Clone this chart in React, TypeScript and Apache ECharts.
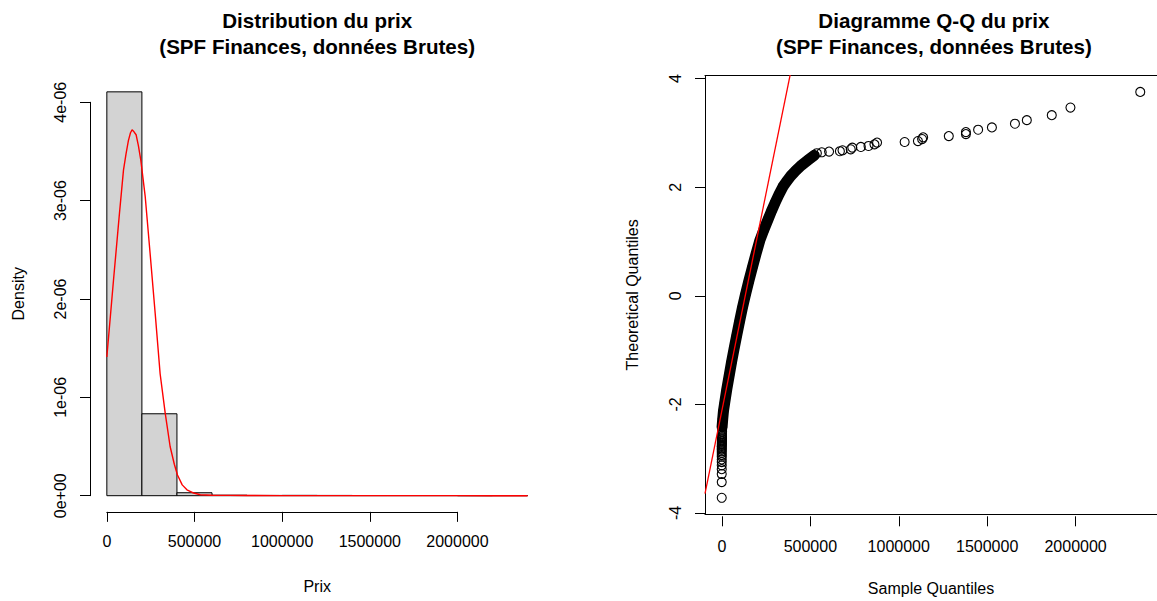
import React, { useEffect, useRef } from "react";
import * as echarts from "echarts";

// ---------- Histogram (left) ----------
const histBreaks = [0, 200000, 400000, 600000, 800000, 1000000, 1200000, 1400000, 1600000, 1800000, 2000000, 2200000, 2400000];
const histDensity = [4.106e-6, 0.833e-6, 0.03e-6, 0.0053e-6, 0.0027e-6, 0.0035e-6, 0.0027e-6, 0.0018e-6, 0.0018e-6, 0.0018e-6, 0, 0.0009e-6];

// kernel density estimate (red curve)
const densX = [0, 20000, 38000, 55000, 72000, 95000, 110000, 123000, 135000, 144000, 155000, 167000, 180000, 194000, 219000, 247000, 276000, 304000, 333000, 361000, 385000, 403000, 430000, 457000, 490000, 533000, 600000, 700000, 800000, 1000000, 1200000, 1500000, 1800000, 2000000, 2200000, 2400000];
const densY = [1.41e-6, 1.82e-6, 2.19e-6, 2.53e-6, 2.87e-6, 3.31e-6, 3.48e-6, 3.61e-6, 3.69e-6, 3.72e-6, 3.70e-6, 3.67e-6, 3.56e-6, 3.41e-6, 3.04e-6, 2.46e-6, 1.85e-6, 1.24e-6, 0.84e-6, 0.50e-6, 0.32e-6, 0.21e-6, 0.11e-6, 0.06e-6, 0.03e-6, 0.01e-6, 0.005e-6, 0.003e-6, 0.002e-6, 0.001e-6, 0.001e-6, 0.0005e-6, 0.0005e-6, 0.0003e-6, 0.0002e-6, 0.0001e-6];

// ---------- Q-Q plot (right) ----------
// lowest observations (stacked near 0)
const qqLowSample = [0, 0, 0, 0, 0, 0, 0, 0, 0, 0, 0, 0, 0, 0, 0, 500, 500, 500, 1000, 1000, 1000, 1000, 1500, 1500, 1500, 2000, 2000];
const qqLowTheo = [-3.76, -3.47, -3.32, -3.23, -3.16, -3.10, -3.05, -3.00, -2.97, -2.93, -2.90, -2.87, -2.85, -2.82, -2.80, -2.78, -2.76, -2.74, -2.72, -2.70, -2.68, -2.66, -2.64, -2.62, -2.58, -2.54, -2.50];
// dense central band
const qqBandSample = [2000, 5700, 10000, 17000, 29000, 42400, 56000, 70700, 86000, 101800, 118000, 135700, 155000, 175300, 196000, 217800, 241000, 266000, 285000, 305400, 327000, 350700, 372000, 395900, 425000, 458000, 497700, 530000];
const qqBandTheo = [-2.45, -2.3, -2.15, -2.0, -1.75, -1.5, -1.25, -1.0, -0.75, -0.5, -0.25, 0, 0.25, 0.5, 0.75, 1.0, 1.2, 1.4, 1.55, 1.7, 1.85, 2.0, 2.1, 2.2, 2.3, 2.4, 2.5, 2.58];
// upper tail outliers
const qqHighSample = [545000, 573000, 615000, 677000, 692000, 739000, 748000, 797000, 841000, 875000, 890000, 1048000, 1124000, 1148000, 1154000, 1301000, 1399000, 1399000, 1469000, 1548000, 1680000, 1748000, 1891000, 1998000, 2398000];
const qqHighTheo = [2.619, 2.637, 2.650, 2.656, 2.674, 2.692, 2.723, 2.735, 2.753, 2.784, 2.816, 2.827, 2.845, 2.882, 2.913, 2.937, 2.974, 3.011, 3.054, 3.097, 3.165, 3.232, 3.324, 3.465, 3.754];
// qqline
const qqLineIntercept = -2.159;
const qqLineSlope = 1.589e-5;

// tick values
const priceTicks = [0, 500000, 1000000, 1500000, 2000000];
const densityTicks = [0, 1e-6, 2e-6, 3e-6, 4e-6];
const theoTicks = [-4, -2, 0, 2, 4];

const FONT = '"Liberation Sans", Arial, Helvetica, sans-serif';

function ext(min: number, max: number): [number, number] {
  const d = (max - min) * 0.04;
  return [min - d, max + d];
}

export default function App() {
  const ref = useRef<HTMLDivElement>(null);
  useEffect(() => {
    const chart = echarts.init(ref.current!, null, { renderer: "svg" });

    const L = { left: 90, right: 544.4, top: 75.7, bottom: 511.85 };
    const R = { left: 705, right: 1162.9, top: 75.7, bottom: 516.3 };

    const [lxMin, lxMax] = ext(histBreaks[0], histBreaks[histBreaks.length - 1]);
    const [lyMin, lyMax] = ext(0, Math.max(...histDensity));
    const allX = [...qqLowSample, ...qqBandSample, ...qqHighSample];
    const allQ = [...qqLowTheo, ...qqBandTheo, ...qqHighTheo];
    const [rxMin, rxMax] = ext(Math.min(...allX), Math.max(...allX));
    const [ryMin, ryMax] = ext(Math.min(...allQ), Math.max(...allQ));

    const lpx = (v: number) => L.left + ((v - lxMin) / (lxMax - lxMin)) * (L.right - L.left);
    const lpy = (v: number) => L.bottom - ((v - lyMin) / (lyMax - lyMin)) * (L.bottom - L.top);
    const rpx = (v: number) => R.left + ((v - rxMin) / (rxMax - rxMin)) * (R.right - R.left);
    const rpy = (v: number) => R.bottom - ((v - ryMin) / (ryMax - ryMin)) * (R.bottom - R.top);

    const pTmin = priceTicks[0], pTmax = priceTicks[priceTicks.length - 1];
    const dTmin = densityTicks[0], dTmax = densityTicks[densityTicks.length - 1];
    const qTmin = theoTicks[0], qTmax = theoTicks[theoTicks.length - 1];

    const labelStyle = { fontFamily: FONT, fontSize: 16, color: "#000" };
    const nameStyle = { fontFamily: FONT, fontSize: 16, color: "#000" };
    const hiddenParts = {
      axisLine: { show: false },
      axisTick: { show: false },
      axisLabel: { show: false },
      splitLine: { show: false },
    };
    const blackLine = { show: true, onZero: false, lineStyle: { color: "#000", width: 1 } };
    const noLine = { show: false, onZero: false };
    const tick = { show: true, length: 10, inside: false, lineStyle: { color: "#000", width: 1 } };

    const qqPoints: number[][] = [];
    qqLowSample.forEach((x, i) => qqPoints.push([x, qqLowTheo[i]]));
    qqBandSample.forEach((x, i) => qqPoints.push([x, qqBandTheo[i]]));
    qqHighSample.forEach((x, i) => qqPoints.push([x, qqHighTheo[i]]));

    const titleStyle = { fontFamily: FONT, fontSize: 20.6, fontWeight: "bold", color: "#000", lineHeight: 26 };

    const option: any = {
      animation: false,
      backgroundColor: "#fff",
      title: [
        {
          text: "Distribution du prix\n(SPF Finances, données Brutes)",
          left: (L.left + L.right) / 2,
          top: 7,
          padding: 0,
          textAlign: "center",
          textStyle: titleStyle,
        },
        {
          text: "Diagramme Q-Q du prix\n(SPF Finances, données Brutes)",
          left: (R.left + R.right) / 2,
          top: 7,
          padding: 0,
          textAlign: "center",
          textStyle: titleStyle,
        },
      ],
      grid: [
        { left: L.left, top: L.top, width: L.right - L.left, height: L.bottom - L.top },
        { left: lpx(pTmin), top: L.top, width: lpx(pTmax) - lpx(pTmin), height: L.bottom - L.top },
        { left: L.left, top: lpy(dTmax), width: 100, height: lpy(dTmin) - lpy(dTmax) },
        { left: R.left, top: R.top, width: R.right - R.left, height: R.bottom - R.top },
        { left: rpx(pTmin), top: R.top, width: rpx(pTmax) - rpx(pTmin), height: R.bottom - R.top },
        { left: R.left, top: rpy(qTmax), width: 100, height: rpy(qTmin) - rpy(qTmax) },
      ],
      xAxis: [
        {
          gridIndex: 0, type: "value", min: lxMin, max: lxMax,
          name: "Prix", nameLocation: "middle", nameGap: 67, nameTextStyle: nameStyle,
          ...hiddenParts,
        },
        {
          gridIndex: 1, type: "value", position: "bottom", min: pTmin, max: pTmax, interval: priceTicks[1] - priceTicks[0],
          axisLine: blackLine,
          axisTick: tick,
          axisLabel: { ...labelStyle, margin: 22, formatter: (v: number) => String(Math.round(v)) },
          splitLine: { show: false },
        },
        { gridIndex: 2, type: "value", show: false, min: 0, max: 1 },
        {
          gridIndex: 3, type: "value", position: "bottom", min: rxMin, max: rxMax,
          name: "Sample Quantiles", nameLocation: "middle", nameGap: 66, nameTextStyle: nameStyle,
          ...hiddenParts,
          axisLine: blackLine,
        },
        {
          gridIndex: 4, type: "value", position: "bottom", min: pTmin, max: pTmax, interval: priceTicks[1] - priceTicks[0],
          axisLine: noLine,
          axisTick: tick,
          axisLabel: { ...labelStyle, margin: 22, formatter: (v: number) => String(Math.round(v)) },
          splitLine: { show: false },
        },
        { gridIndex: 5, type: "value", show: false, min: 0, max: 1 },
        {
          gridIndex: 3, type: "value", position: "top", min: rxMin, max: rxMax,
          ...hiddenParts,
          axisLine: blackLine,
        },
      ],
      yAxis: [
        {
          gridIndex: 0, type: "value", min: lyMin, max: lyMax,
          name: "Density", nameLocation: "middle", nameGap: 64, nameTextStyle: nameStyle,
          ...hiddenParts,
        },
        { gridIndex: 1, type: "value", show: false, min: 0, max: 1 },
        {
          gridIndex: 2, type: "value", position: "left", min: dTmin, max: dTmax, interval: densityTicks[1] - densityTicks[0],
          axisLine: blackLine,
          axisTick: tick,
          axisLabel: {
            ...labelStyle, margin: 22, rotate: 90,
            formatter: (v: number) => {
              const m = Math.round(v * 1e6);
              return m === 0 ? "0e+00" : m + "e-06";
            },
          },
          splitLine: { show: false },
        },
        {
          gridIndex: 3, type: "value", position: "left", min: ryMin, max: ryMax,
          name: "Theoretical Quantiles", nameLocation: "middle", nameGap: 65, nameTextStyle: nameStyle,
          ...hiddenParts,
          axisLine: blackLine,
        },
        { gridIndex: 4, type: "value", show: false, min: 0, max: 1 },
        {
          gridIndex: 5, type: "value", position: "left", min: qTmin, max: qTmax, interval: theoTicks[1] - theoTicks[0],
          axisLine: noLine,
          axisTick: tick,
          axisLabel: { ...labelStyle, margin: 22, rotate: 90 },
          splitLine: { show: false },
        },
      ],
      series: [
        {
          type: "custom",
          xAxisIndex: 0,
          yAxisIndex: 0,
          clip: false,
          data: histDensity.map((d, i) => [histBreaks[i], histBreaks[i + 1], d]),
          renderItem: (params: any, api: any) => {
            const s = api.coord([api.value(0), api.value(2)]);
            const e = api.coord([api.value(1), 0]);
            return {
              type: "rect",
              shape: { x: s[0], y: s[1], width: e[0] - s[0], height: e[1] - s[1] },
              style: { fill: "#D3D3D3", stroke: "#000", lineWidth: 1 },
            };
          },
          silent: true,
        },
        {
          type: "line",
          xAxisIndex: 0,
          yAxisIndex: 0,
          data: densX.map((x, i) => [x, densY[i]]),
          symbol: "none",
          smooth: false,
          lineStyle: { color: "#FF0000", width: 1.4 },
          silent: true,
          z: 5,
        },
        {
          type: "line",
          xAxisIndex: 3,
          yAxisIndex: 3,
          data: qqBandSample.map((x, i) => [x, qqBandTheo[i]]),
          symbol: "none",
          lineStyle: { color: "#000", width: 11, cap: "round", join: "round" },
          silent: true,
          z: 2,
        },
        {
          type: "scatter",
          xAxisIndex: 3,
          yAxisIndex: 3,
          data: qqPoints,
          symbol: "circle",
          symbolSize: 9,
          itemStyle: { color: "rgba(0,0,0,0)", borderColor: "#000", borderWidth: 1.1, opacity: 1 },
          silent: true,
          z: 3,
        },
        {
          type: "line",
          xAxisIndex: 3,
          yAxisIndex: 3,
          data: [
            [rxMin, qqLineIntercept + qqLineSlope * rxMin],
            [rxMax, qqLineIntercept + qqLineSlope * rxMax],
          ],
          symbol: "none",
          clip: true,
          lineStyle: { color: "#FF0000", width: 1.3 },
          silent: true,
          z: 4,
        },
      ],
    };

    chart.setOption(option);
    return () => chart.dispose();
  }, []);

  return (
    <div
      ref={ref}
      style={{ position: "absolute", left: 0, top: 0, width: 1157, height: 601, background: "#fff" }}
    />
  );
}
